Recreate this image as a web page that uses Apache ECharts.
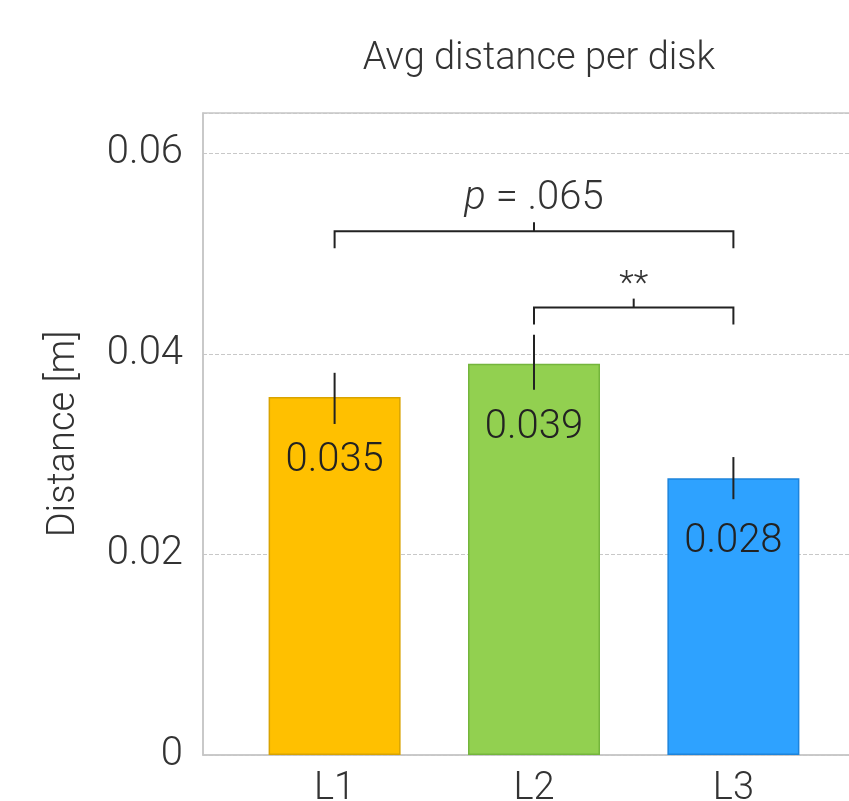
<!DOCTYPE html>
<html>
<head>
<meta charset="utf-8">
<script src="https://cdn.jsdelivr.net/npm/echarts@6/dist/echarts.min.js"></script>
<style>
html,body{margin:0;padding:0;background:#fff;}
#chart{width:849px;height:801px;}
</style>
</head>
<body>
<div id="chart"></div>
<script>
const categories = ['L1', 'L2', 'L3'];
const positions = [1, 2, 3];
const means = [0.0357, 0.0390, 0.0276];
const valueLabels = ['0.035', '0.039', '0.028'];
const errLow = [0.0330, 0.0364, 0.0255];
const errHigh = [0.0381, 0.0419, 0.0297];
const barColors = ['#FFC000', '#92D050', '#2EA2FF'];
const barBorders = ['#D9A300', '#74B53C', '#1C84DC'];
const yTicks = [0, 0.02, 0.04, 0.06];
const brackFrom = [1, 2];
const brackTo = [3, 3];
const brackY = [0.0522, 0.0446];
const brackText = ['p = .065', '**'];
const titleText = 'Avg distance per disk';
const yName = 'Distance [m]';

const FONT = 'Roboto, "Liberation Sans", sans-serif';
const chart = echarts.init(document.getElementById('chart'), null, {renderer: 'canvas'});

const barData = positions.map((p, i) => ({
  value: [p, means[i]],
  itemStyle: {color: barColors[i], borderColor: barBorders[i], borderWidth: 1.5},
  label: {formatter: valueLabels[i]}
}));
const errData = positions.map((p, i) => [p, errLow[i], errHigh[i]]);
const brData = brackFrom.map((f, i) => [f, brackTo[i], brackY[i], i]);

chart.setOption({
  animation: false,
  backgroundColor: '#ffffff',
  title: {
    text: titleText,
    left: 534, top: 35,
    textAlign: 'center',
    textStyle: {fontFamily: FONT, fontSize: 38, fontWeight: 300, color: '#333'}
  },
  grid: {
    left: 203, right: -16, top: 113, bottom: 46,
    outerBoundsMode: 'none',
    containLabel: false,
    show: true, borderColor: '#c6c6c6', borderWidth: 1.5, backgroundColor: '#fff'
  },
  xAxis: {
    type: 'value', min: 0.34, max: 3.66,
    axisLine: {show: true, lineStyle: {color: '#c6c6c6', width: 1.5}},
    axisTick: {show: false},
    splitLine: {show: false},
    axisLabel: {
      customValues: positions,
      formatter: v => categories[positions.indexOf(Math.round(v))] || '',
      fontFamily: FONT, fontSize: 38, fontWeight: 300, color: '#333', margin: 15
    }
  },
  yAxis: {
    type: 'value', min: 0, max: 0.064, interval: 0.02,
    name: yName, nameLocation: 'middle', nameGap: 120,
    nameTextStyle: {fontFamily: FONT, fontSize: 38, fontWeight: 300, color: '#333'},
    axisLine: {show: true, lineStyle: {color: '#c6c6c6', width: 1.5}},
    axisTick: {show: false},
    splitLine: {show: true, lineStyle: {color: '#c8c8c8', type: 'dashed', width: 1}},
    axisLabel: {
      showMaxLabel: false,
      formatter: v => (yTicks.indexOf(Math.round(v * 100) / 100) >= 0 ? (v === 0 ? '0' : v.toFixed(2)) : ''),
      fontFamily: FONT, fontSize: 40, fontWeight: 300, color: '#333', margin: 20
    }
  },
  series: [
    {
      type: 'bar',
      barWidth: 132,
      data: barData,
      z: 2,
      label: {
        show: true, position: 'insideTop', distance: 44,
        fontFamily: FONT, fontSize: 40, fontWeight: 300, color: '#222'
      }
    },
    {
      type: 'custom',
      z: 5,
      data: errData,
      encode: {x: 0, y: [1, 2]},
      renderItem: function (params, api) {
        const x = api.value(0);
        const a = api.coord([x, api.value(1)]);
        const b = api.coord([x, api.value(2)]);
        return {
          type: 'line',
          shape: {x1: a[0], y1: a[1], x2: b[0], y2: b[1]},
          style: {stroke: '#222', lineWidth: 2}
        };
      }
    },
    {
      type: 'custom',
      z: 6,
      data: brData,
      encode: {x: [0, 1], y: 2},
      renderItem: function (params, api) {
        const p1 = api.coord([api.value(0), api.value(2)]);
        const p2 = api.coord([api.value(1), api.value(2)]);
        const y = p1[1];
        const xm = (p1[0] + p2[0]) / 2;
        const t = brackText[api.value(3)];
        const isP = t.indexOf('p ') === 0;
        return {
          type: 'group',
          children: [
            {type: 'polyline', shape: {points: [[p1[0], y + 17], [p1[0], y], [p2[0], y], [p2[0], y + 17]]},
             style: {stroke: '#222', lineWidth: 2, fill: null}},
            {type: 'line', shape: {x1: xm, y1: y, x2: xm, y2: y - 9},
             style: {stroke: '#222', lineWidth: 2}},
            {type: 'text', x: xm, y: isP ? y - 32 : y - 22,
             style: {
               text: isP ? '{i|p}' + t.slice(1) : t,
               rich: {i: {fontStyle: 'italic', fontFamily: FONT, fontSize: 40, fontWeight: 300, fill: '#333'}},
               align: 'center', verticalAlign: 'middle',
               fontFamily: FONT, fontSize: isP ? 40 : 34, fontWeight: 300, fill: '#333'
             }}
          ]
        };
      }
    }
  ]
});
</script>
</body>
</html>
